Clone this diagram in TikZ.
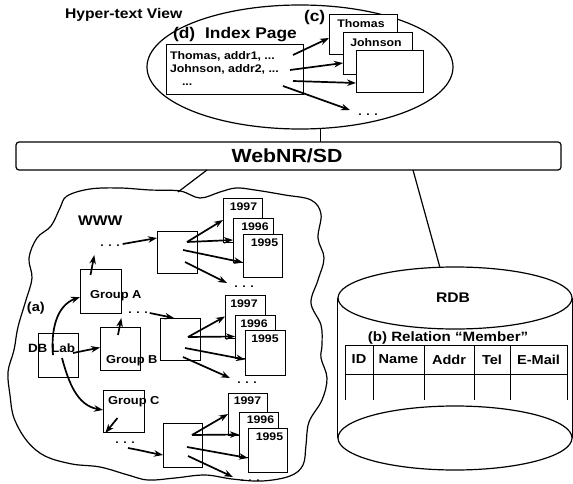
\documentclass[tikz,border=0pt]{standalone}
\usepackage{fontspec}
\setmainfont{Liberation Sans}[FakeStretch=1.12]
\usetikzlibrary{arrows.meta,calc,shapes.geometric}
\begin{document}
\begin{tikzpicture}[x=1pt,y=-1pt,
  lbl/.style={font=\bfseries\fontsize{#1}{#1}\selectfont, inner sep=0pt, outer sep=0pt},
  bx/.style={draw, line width=1pt, fill=white, inner sep=0pt, outer sep=0pt},
  cell/.style={draw, line width=1pt, inner sep=0pt, outer sep=0pt, minimum height=29pt,
    font=\bfseries\fontsize{13}{13}\selectfont},
  arr/.style={-{Stealth[length=9pt,width=6.5pt]}, line width=1.7pt},
  ln/.style={line width=1.2pt},
  dts/.style={font=\bfseries\fontsize{11}{11}\selectfont, inner sep=0pt, outer sep=0pt},
]
\useasboundingbox (0,0) rectangle (573,484);

% ---------------- Hyper-text view ----------------
\node[lbl=14, anchor=base west] (hv) at (65,18.5) {Hyper-text View};
\node[draw, ellipse, line width=1.2pt, inner sep=0pt, minimum width=306pt, minimum height=124pt] (view) at (300,67) {};
\node[lbl=15.5, anchor=base west] (dlab) at (173,38.5) {(d)\hspace{10pt}Index Page};
\node[lbl=15.5, anchor=base west] (clab) at (304,22) {(c)};
\node[bx, minimum width=137pt, minimum height=50pt] (ib) at (234.5,70) {};
\node[lbl=11, anchor=base west] (il1) at (170,59.5) {Thomas, addr1, ...};
\node[lbl=11, anchor=base west] (il2) at (170,73) {Johnson, addr2, ...};
\node[lbl=11, anchor=base west] (il3) at (182,86) {...};
\node[bx, minimum width=68pt, minimum height=40pt] (pT) at (363,35) {};
\node[lbl=11, anchor=base] (pTt) at (361,28) {Thomas};
\node[bx, minimum width=69pt, minimum height=42pt] (pJ) at (377.5,54) {};
\node[lbl=11, anchor=base] (pJt) at (376,47) {Johnson};
\node[bx, minimum width=67pt, minimum height=42pt] (pB) at (389.5,72) {};
\node[dts] (dI) at (368,115) {. . .};
\draw[arr] ($(ib.east)+(-10,-15)$) -- ($(pT.west)+(0,3)$);
\draw[arr] ($(ib.east)+(-13,0)$) -- ($(pJ.west)+(0,9)$);
\draw[arr] ($(ib.east)+(-10,11)$) -- ($(pB.west)+(0,11)$);
\draw[arr] ($(ib.east)+(-20,16)$) -- ($(dI)+(-18,-5)$);

% ---------------- WebNR/SD ----------------
\node[draw, line width=1.2pt, rounded corners=3pt, minimum width=545pt, minimum height=28pt,
  inner sep=0pt, outer sep=0pt] (web) at (288.5,156) {};
\node[lbl=19, anchor=base] (webt) at (287,162) {WebNR/SD};
\draw[ln] (view.-72) -- (view.-72 |- web.north);

% ---------------- WWW cloud ----------------
\draw[line width=1.2pt] plot[smooth cycle, tension=0.6] coordinates {
 (67,196) (90,189) (120,188) (150,190) (180,191) (200,198) (220,192) (236,188) (255,190)
 (285,195) (311,200) (321,214) (318,238) (324,258) (318,280) (311,303) (321,325)
 (322,345) (321,358) (327,378) (322,400) (309,422) (306,445) (303,465) (290,476)
 (262,481) (232,479) (205,475) (175,478) (148,480) (128,475) (100,467) (72,464)
 (45,456) (27,441) (14,418) (10,395) (8,372) (14,350) (18,327) (26,300) (32,278)
 (29,258) (37,238) (51,226) (60,208)};
\coordinate (wwwend) at (178,192);
\draw[ln] ($(web.south west)+(191,0)$) -- (wwwend);
\node[lbl=14, anchor=base west] (wwwt) at (78,225) {WWW};
\node[lbl=13, anchor=base west] (alab) at (27,311) {(a)};

\node[bx, minimum width=40pt, minimum height=44pt] (dblab) at (58,355) {};
\node[lbl=12, anchor=base west] (dbt) at (28,352) {DB Lab};
\node[bx, minimum width=41pt, minimum height=44pt] (gA) at (100.5,291) {};
\node[lbl=11.5, anchor=base west] (gAt) at (90,298) {Group A};
\node[bx, minimum width=40pt, minimum height=43pt] (gB) at (120,348.5) {};
\node[lbl=11.5, anchor=base west] (gBt) at (106,363) {Group B};
\node[bx, minimum width=41pt, minimum height=42pt] (gC) at (123.5,411) {};
\node[lbl=11.5, anchor=base west] (gCt) at (108,404) {Group C};

\node[bx, minimum width=40pt, minimum height=42pt] (mid1) at (177,252) {};
\node[bx, minimum width=40pt, minimum height=42pt] (mid2) at (180,339) {};
\node[bx, minimum width=39pt, minimum height=44pt] (mid3) at (182.5,445) {};

\node[dts] (dA) at (110,246) {. . .};
\node[dts] (dB) at (138,313) {. . .};
\node[dts] (dC) at (125,443) {. . .};
\node[dts] (d1) at (244,287) {. . .};
\node[dts] (d2) at (247,383) {. . .};
\node[dts] (d3) at (250,481) {. . .};

% year stacks
\node[bx, minimum width=39pt, minimum height=44pt] (s1a) at (242.5,220) {};
\node[lbl=11, anchor=base] at ($(s1a.north)+(1,12)$) {1997};
\node[bx, minimum width=40pt, minimum height=44pt] (s1b) at (253,240) {};
\node[lbl=11, anchor=base] at ($(s1b.north)+(2,12)$) {1996};
\node[bx, minimum width=39pt, minimum height=43pt] (s1c) at (262.5,255.5) {};
\node[lbl=11, anchor=base] at ($(s1c.north)+(2,12)$) {1995};

\node[bx, minimum width=40pt, minimum height=43pt] (s2a) at (245,316.5) {};
\node[lbl=11, anchor=base] at ($(s2a.north)+(-1,12)$) {1997};
\node[bx, minimum width=40pt, minimum height=43pt] (s2b) at (255,336.5) {};
\node[lbl=11, anchor=base] at ($(s2b.north)+(-1,12)$) {1996};
\node[bx, minimum width=40pt, minimum height=45pt] (s2c) at (265,352.5) {};
\node[lbl=11, anchor=base] at ($(s2c.north)+(0,12)$) {1995};

\node[bx, minimum width=39pt, minimum height=42pt] (s3a) at (247.5,414) {};
\node[lbl=11, anchor=base] at ($(s3a.north)+(0,11)$) {1997};
\node[bx, minimum width=39pt, minimum height=45pt] (s3b) at (258.5,434.5) {};
\node[lbl=11, anchor=base] at ($(s3b.north)+(2,11)$) {1996};
\node[bx, minimum width=39pt, minimum height=44pt] (s3c) at (267.5,450) {};
\node[lbl=11, anchor=base] at ($(s3c.north)+(2,12)$) {1995};

% arrows in WWW
\draw[arr] ($(dblab.center)+(-5,0)$) to[out=95,in=200] ($(gA.west)+(0,6)$);
\draw[arr] ($(dblab.center)+(15,-2)$) -- ($(gB.west)+(0,-1)$);
\draw[arr] ($(dblab.center)+(4,3)$) to[out=-75,in=170] ($(gC.west)+(0,-1)$);
\draw[arr] ($(gA.north)+(-10,6)$) -- ($(dA.west)+(-6,9)$);
\draw[arr] ($(dA.east)+(3,-2)$) -- ($(mid1.west)+(0,-14)$);
\draw[arr] ($(gB.north)+(-2,8)$) -- ($(dB.west)+(-7,5)$);
\draw[arr] ($(dB.east)+(2,0)$) -- ($(mid2.north west)+(14,0)$);
\draw[arr] ($(gC.center)+(-6,7)$) -- ($(dC.west)+(-10,-10)$);
\draw[arr] ($(dC)+(3,5)$) to[out=-10,in=170] ($(mid3.west)+(0,10)$);

\draw[arr] ($(mid1.center)+(10,-10)$) -- (s1a.west);
\draw[arr] ($(mid1.center)+(10,-10)$) -- (s1b.west);
\draw[arr] ($(mid1.center)+(6,-2)$) -- ($(s1c.west)+(0,7)$);
\draw[arr] ($(mid1.center)+(8,10)$) -- ($(d1)+(-17,-4)$);

\draw[arr] ($(mid2.center)+(8,-2)$) -- (s2a.west);
\draw[arr] ($(mid2.center)+(8,-2)$) -- (s2b.west);
\draw[arr] ($(mid2.center)+(5,9)$) -- ($(s2c.west)+(0,7)$);
\draw[arr] ($(mid2.center)+(3,18)$) -- ($(d2)+(-17,-5)$);

\draw[arr] ($(mid3.center)+(9.5,-10)$) -- (s3a.west);
\draw[arr] ($(mid3.center)+(9.5,-10)$) -- (s3b.west);
\draw[arr] ($(mid3.center)+(4.5,2)$) -- ($(s3c.west)+(0,8)$);
\draw[arr] ($(mid3.center)+(5.5,11)$) -- ($(d3)+(-17,-4)$);

% ---------------- RDB ----------------
\node[draw, ellipse, line width=1.2pt, inner sep=0pt, minimum width=234pt, minimum height=62pt] (rdbtop) at (455,298) {};
\node[draw, ellipse, line width=1.2pt, inner sep=0pt, minimum width=234pt, minimum height=64pt] (rdbbot) at (455,438) {};
\draw[ln] (rdbtop.west) -- (rdbbot.west);
\draw[ln] (rdbtop.east) -- (rdbbot.east);
\node[lbl=14, anchor=base] (rdbt) at (453,302) {RDB};
\draw[ln] ($(web.south west)+(397,0)$) -- (rdbtop.116);
\node[lbl=13.5, anchor=base] (rel) at (448,341) {(b) Relation ``Member''};
\node[cell, minimum width=28pt] (cID) at (359,359.5) {ID};
\node[cell, minimum width=51pt] (cName) at (398.5,359.5) {Name};
\node[cell, minimum width=50pt] (cAddr) at (449,359.5) {Addr};
\node[cell, minimum width=36pt] (cTel) at (492,359.5) {Tel};
\node[cell, minimum width=57pt] (cMail) at (538.5,359.5) {E-Mail};
\foreach \c in {cID,cName,cAddr,cTel,cMail}
  \draw[line width=1pt] (\c.south west) -- ++(0,26);
\draw[line width=1pt] (cMail.south east) -- ++(0,26);
\end{tikzpicture}
\end{document}
